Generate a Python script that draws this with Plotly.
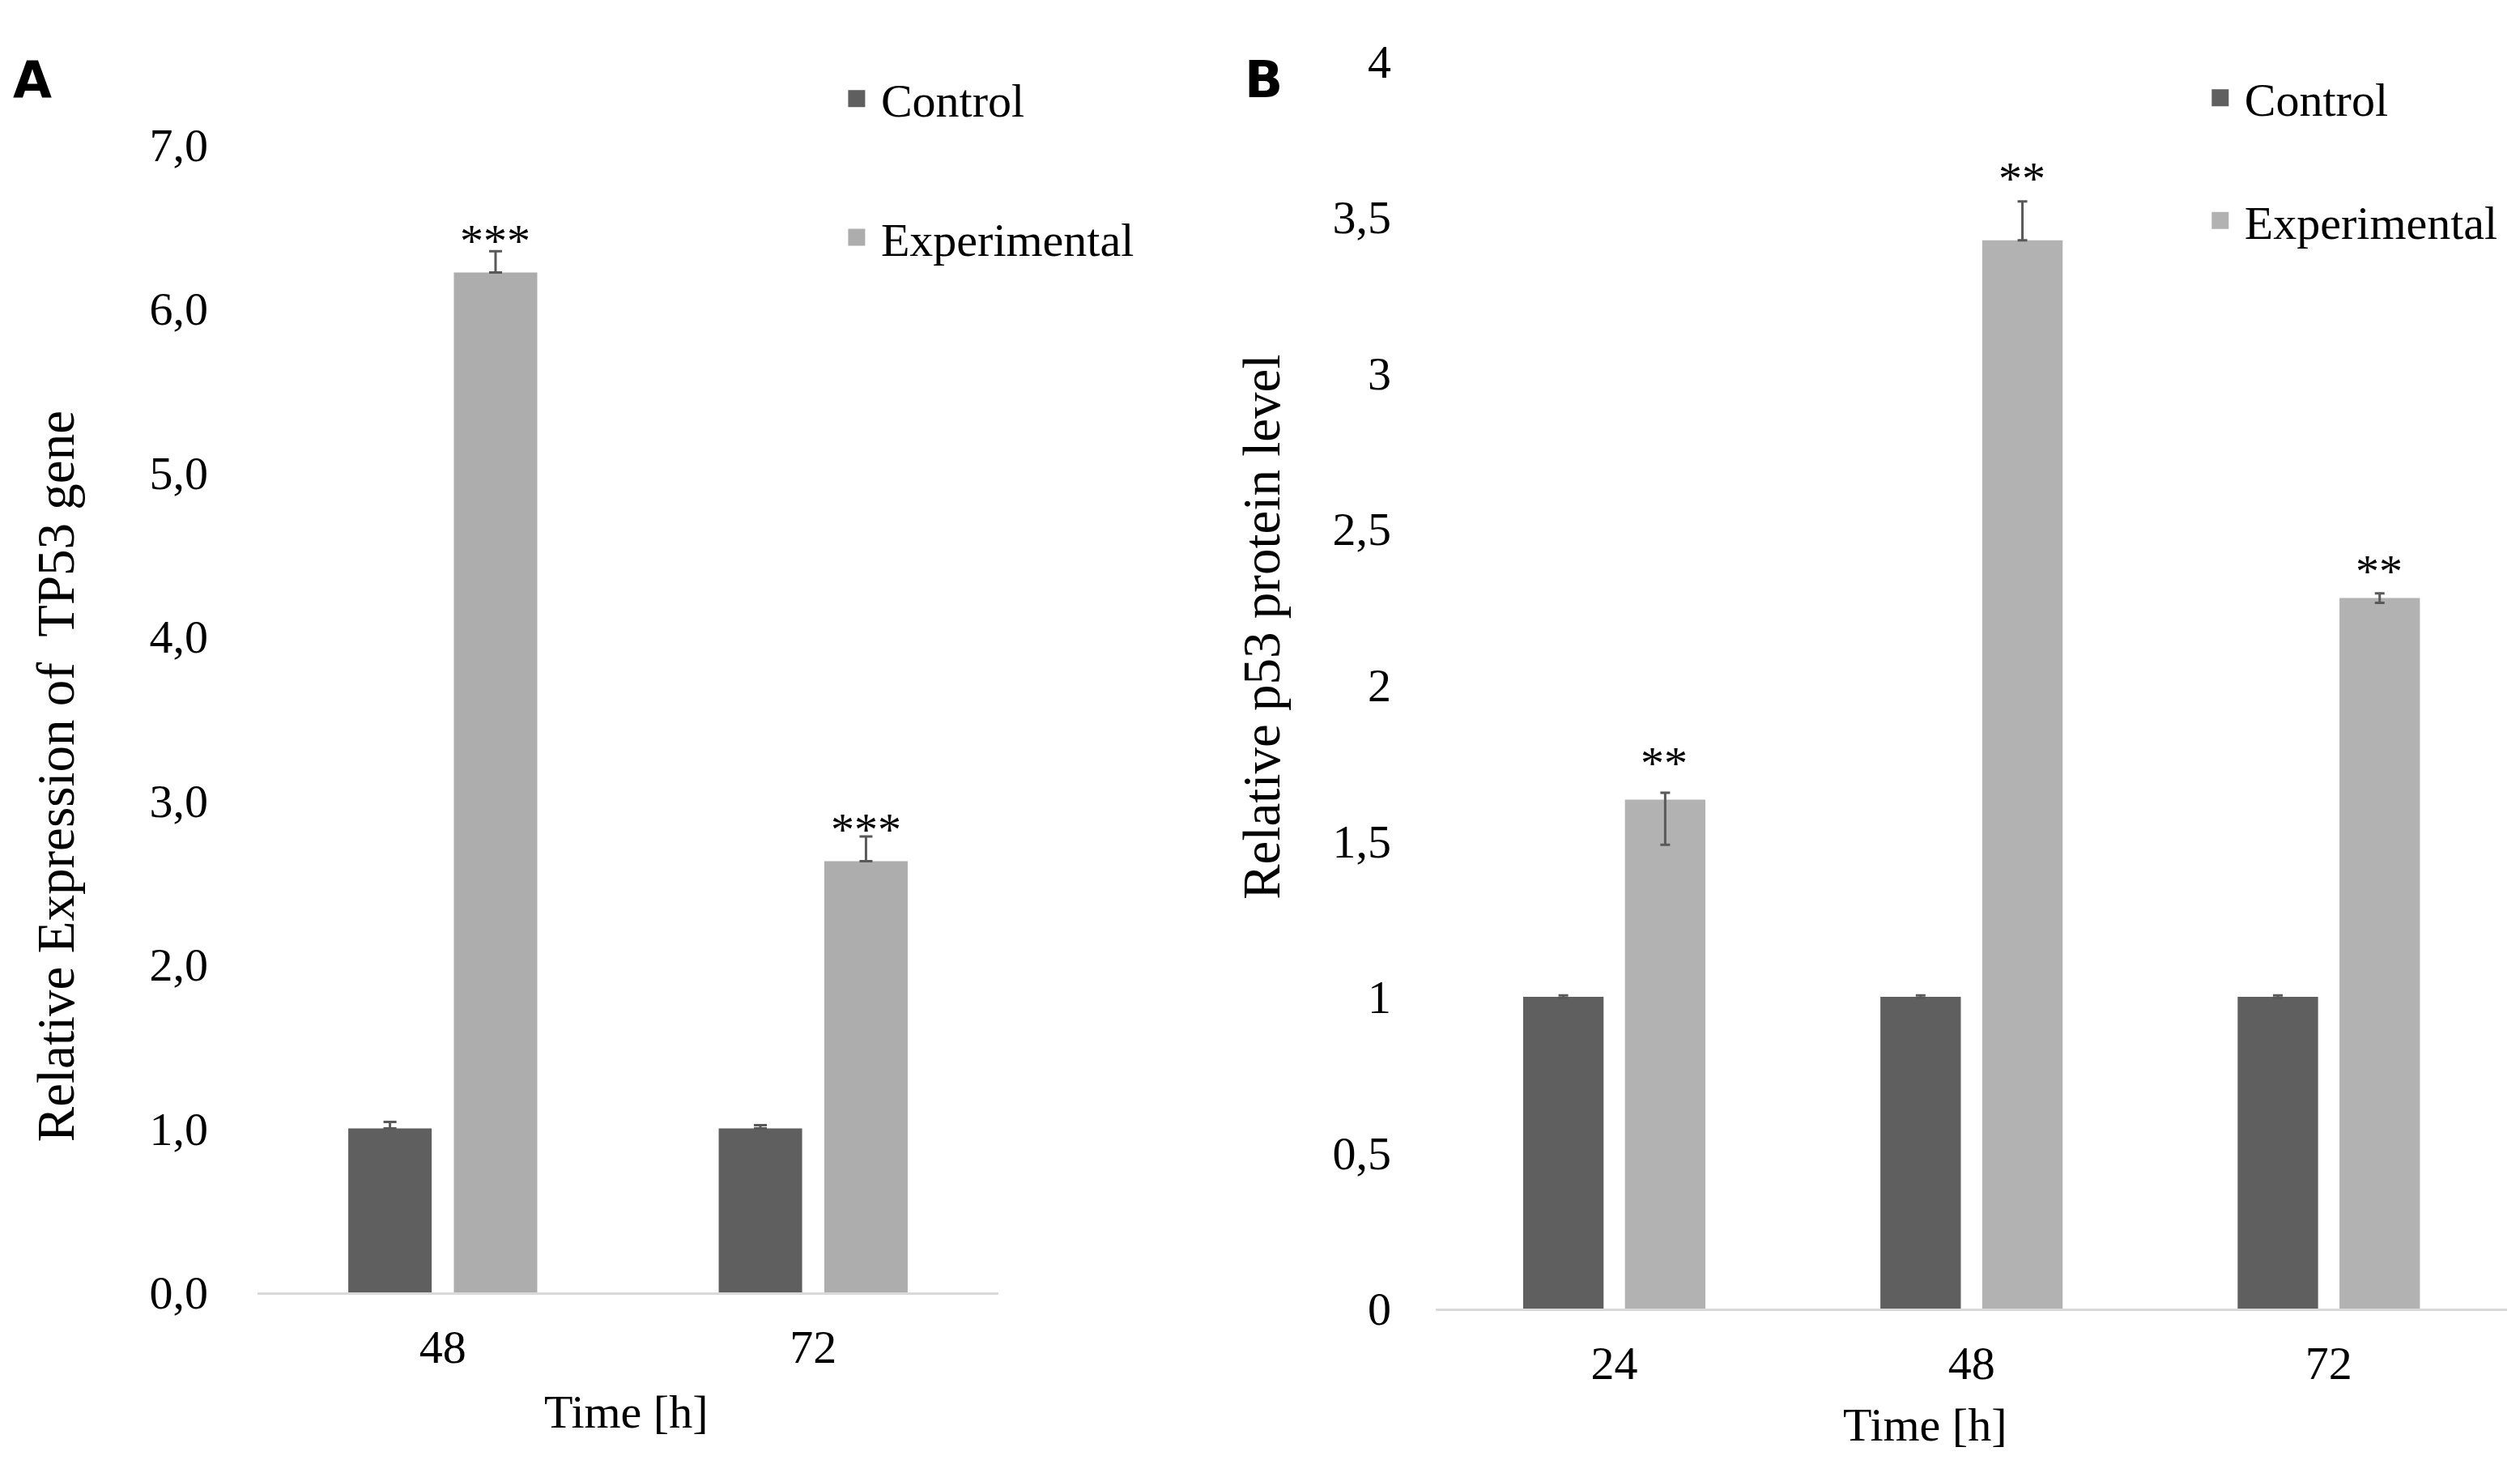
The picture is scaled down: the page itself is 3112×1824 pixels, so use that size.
import plotly.graph_objects as go

# ---------------- data ----------------
a_times = ["48", "72"]
a_control = [1.0, 1.0]
a_control_err = [0.04, 0.02]
a_exp = [6.22, 2.63]
a_exp_err = [0.13, 0.15]
a_sig = ["***", "***"]
a_sig_y = [6.46, 2.87]
a_yticks = [0, 1, 2, 3, 4, 5, 6, 7]
a_yticklabels = ["0,0", "1,0", "2,0", "3,0", "4,0", "5,0", "6,0", "7,0"]

b_times = ["24", "48", "72"]
b_control = [1.0, 1.0, 1.0]
b_control_err = [0.004, 0.004, 0.004]
b_exp = [1.632, 3.425, 2.278]
b_exp_err_plus = [0.022, 0.125, 0.015]
b_exp_err_minus = [0.145, 0.0, 0.015]
b_sig = ["**", "**", "**"]
b_sig_y = [1.774, 3.65, 2.39]
b_yticks = [0, 0.5, 1, 1.5, 2, 2.5, 3, 3.5, 4]
b_yticklabels = ["0", "0,5", "1", "1,5", "2", "2,5", "3", "3,5", "4"]

series_names = ["Control", "Experimental"]

# ---------------- style ----------------
C_CTRL = "#5f5f5f"
C_EXP_A = "#adadad"
C_EXP_B = "#b2b2b2"
C_ERR = "#595959"
SERIF = "Liberation Serif"

fig = go.Figure()

def err(plus, minus=None, width=8):
    d = dict(type="data", array=plus, color=C_ERR, thickness=3, width=width, visible=True,
             symmetric=False)
    d["arrayminus"] = [0] * len(plus) if minus is None else minus
    return d

# Panel A
fig.add_trace(go.Bar(x=a_times, y=a_control, name=series_names[0], marker_color=C_CTRL,
                     marker_line_width=0, error_y=err(a_control_err), xaxis="x", yaxis="y",
                     showlegend=False, offsetgroup="c"))
fig.add_trace(go.Bar(x=a_times, y=a_exp, name=series_names[1], marker_color=C_EXP_A,
                     marker_line_width=0, error_y=err(a_exp_err), xaxis="x", yaxis="y",
                     showlegend=False, offsetgroup="e"))
# Panel B
fig.add_trace(go.Bar(x=b_times, y=b_control, name=series_names[0], marker_color=C_CTRL,
                     marker_line_width=0, error_y=err(b_control_err, b_control_err, 6),
                     xaxis="x2", yaxis="y2", showlegend=False, offsetgroup="c"))
fig.add_trace(go.Bar(x=b_times, y=b_exp, name=series_names[1], marker_color=C_EXP_B,
                     marker_line_width=0, error_y=err(b_exp_err_plus, b_exp_err_minus, 6),
                     xaxis="x2", yaxis="y2", showlegend=False, offsetgroup="e"))

# legend entries
for nm, col, grp in [(series_names[0], C_CTRL, "g1"), (series_names[1], C_EXP_A, "g2")]:
    fig.add_trace(go.Scatter(x=[None], y=[None], mode="markers", name=nm, legend="legend",
                             legendgroup="a" + grp, xaxis="x", yaxis="y",
                             marker=dict(symbol="square", size=16, color=col,
                                         line=dict(color=col, width=5))))
for nm, col, grp in [(series_names[0], C_CTRL, "g1"), (series_names[1], C_EXP_B, "g2")]:
    fig.add_trace(go.Scatter(x=[None], y=[None], mode="markers", name=nm, legend="legend2",
                             legendgroup="b" + grp, xaxis="x2", yaxis="y2",
                             marker=dict(symbol="square", size=16, color=col,
                                         line=dict(color=col, width=5))))

xcommon = dict(type="category", showline=True, linecolor="#d9d9d9", linewidth=3, ticks="",
               showgrid=False, zeroline=False, tickfont=dict(family=SERIF, size=58, color="black"),
               ticklabelstandoff=14, fixedrange=True)
ycommon = dict(showline=False, ticks="", showgrid=False, zeroline=False,
               tickfont=dict(family=SERIF, size=58, color="black"), fixedrange=True)

fig.update_layout(
    width=3112, height=1824,
    margin=dict(l=0, r=0, t=0, b=0, autoexpand=False),
    paper_bgcolor="white", plot_bgcolor="white",
    barmode="group", bargap=0.43, bargroupgap=0.21,
    separators=",.",
    xaxis=dict(domain=[0.1022, 0.3962], anchor="y", range=[-0.5, len(a_times) - 0.5], **xcommon),
    yaxis=dict(domain=[0.125, 0.9021], anchor="x", range=[0, 7], tickvals=a_yticks,
               ticktext=a_yticklabels, ticklabelstandoff=60, **ycommon),
    xaxis2=dict(domain=[0.5697, 0.995], anchor="y2", range=[-0.5, len(b_times) - 0.5], **xcommon),
    yaxis2=dict(domain=[0.114, 0.9587], anchor="x2", range=[0, 4], tickvals=b_yticks,
                ticktext=b_yticklabels, ticklabelstandoff=54, **ycommon),
    legend=dict(x=0.3303, y=0.9575, xanchor="left", yanchor="top", tracegroupgap=93, itemwidth=50,
                font=dict(family=SERIF, size=58, color="black"), bgcolor="rgba(0,0,0,0)",
                itemclick=False, itemdoubleclick=False),
    legend2=dict(x=0.8714, y=0.958, xanchor="left", yanchor="top", tracegroupgap=73, itemwidth=50,
                 font=dict(family=SERIF, size=58, color="black"), bgcolor="rgba(0,0,0,0)",
                 itemclick=False, itemdoubleclick=False),
)

ann = []
# significance marks (x given as category index)
for i, (s, yv) in enumerate(zip(a_sig, a_sig_y)):
    ann.append(dict(x=i, y=yv, xref="x", yref="y", text=s, showarrow=False, xshift=65,
                    yanchor="middle", yshift=-10, font=dict(family=SERIF, size=58, color="black")))
for i, (s, yv) in enumerate(zip(b_sig, b_sig_y)):
    ann.append(dict(x=i, y=yv, xref="x2", yref="y2", text=s, showarrow=False, xshift=62,
                    yanchor="middle", yshift=-10, font=dict(family=SERIF, size=58, color="black")))
# panel letters
ann.append(dict(x=0.0129, y=0.946, xref="paper", yref="paper", text="<b>A</b>", showarrow=False,
                xanchor="center", yanchor="middle", font=dict(family="DejaVu Sans", size=62, color="black")))
ann.append(dict(x=0.5013, y=0.946, xref="paper", yref="paper", text="<b>B</b>", showarrow=False,
                xanchor="center", yanchor="middle", font=dict(family="DejaVu Sans", size=62, color="black")))
# axis titles
ann.append(dict(x=0.0222, y=0.4742, xref="paper", yref="paper", text="Relative Expression of  TP53 gene",
                textangle=-90, showarrow=False, xanchor="center", yanchor="middle",
                font=dict(family=SERIF, size=65, color="black")))
ann.append(dict(x=0.5006, y=0.5757, xref="paper", yref="paper", text="Relative p53 protein level",
                textangle=-90, showarrow=False, xanchor="center", yanchor="middle",
                font=dict(family=SERIF, size=65, color="black")))
ann.append(dict(x=0.2487, y=0.0444, xref="paper", yref="paper", text="Time [h]", showarrow=False,
                xanchor="center", yanchor="middle", font=dict(family=SERIF, size=58, color="black")))
ann.append(dict(x=0.7641, y=0.0356, xref="paper", yref="paper", text="Time [h]", showarrow=False,
                xanchor="center", yanchor="middle", font=dict(family=SERIF, size=58, color="black")))
fig.update_layout(annotations=ann)

fig.write_html("out.html")
